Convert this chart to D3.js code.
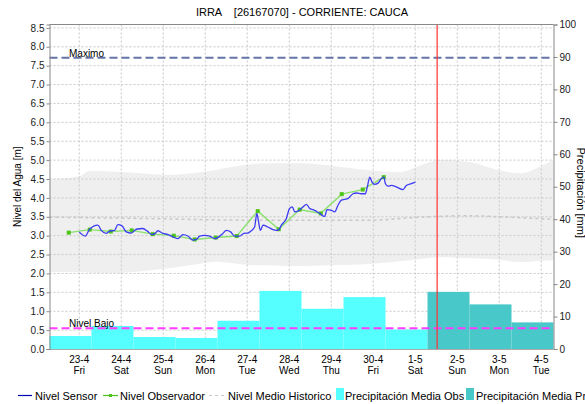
<!DOCTYPE html>
<html>
<head>
<meta charset="utf-8">
<script src="https://cdn.jsdelivr.net/npm/d3@7"></script>
<style>
  body { margin: 0; background: #fff; }
  text { font-family: "Liberation Sans", Arial, sans-serif; }
</style>
</head>
<body>
<svg id="chart" width="585" height="404"></svg>
<script>
// hours are counted from 23-4-2021 00:00
const sensorHours = [0, 3.4, 5.9, 10.6, 12.6, 15.4, 17.3, 20.2, 22.1, 24.4, 26.9, 29.7, 32.6, 36.4, 38.9, 41.5, 43.4, 44.9, 47.8, 50.7,
  53.5, 56.4, 59.2, 62.1, 64.9, 66.9, 68.8, 71.6, 74.5, 77.4, 79.2, 82.1, 84.0, 86.5, 88.8, 91.6, 94.1, 96.4, 97.4, 100.2,
  101.5, 102.3, 103.5, 105.0, 107.8, 110.7, 112.6, 114.1, 115.5, 118.3, 120.2, 121.8, 123.1, 125.0, 127.8, 129.8, 131.7, 134.5, 137.4, 140.2,
  141.6, 144.1, 146.0, 147.8, 149.8, 151.7, 153.5, 156.4, 158.4, 161.2, 163.5, 164.6, 166.0, 167.3, 168.8, 170.7, 172.6, 174.1, 174.9, 176.4,
  178.4, 181.2, 185.0, 186.9, 189.8, 192.1];
const sensorLevels = [3.10, 2.99, 3.17, 3.28, 3.14, 3.06, 3.12, 3.14, 3.29, 3.26, 3.10, 3.07, 3.17, 3.19, 3.12, 3.03, 3.06, 3.13, 3.06, 3.03,
  2.97, 2.92, 3.03, 2.99, 2.88, 2.90, 2.99, 3.01, 2.99, 2.92, 2.95, 3.06, 3.14, 3.10, 2.99, 2.99, 3.06, 3.07, 3.10, 3.23,
  3.59, 3.41, 3.14, 3.28, 3.23, 3.16, 3.14, 3.16, 3.28, 3.45, 3.72, 3.76, 3.63, 3.65, 3.76, 3.83, 3.72, 3.67, 3.59, 3.51,
  3.69, 3.67, 3.63, 3.80, 3.94, 3.96, 3.98, 4.11, 4.13, 4.11, 4.11, 4.29, 4.55, 4.42, 4.36, 4.39, 4.51, 4.55, 4.38, 4.31,
  4.33, 4.29, 4.22, 4.33, 4.38, 4.42];

const obsHours = [-6, 6, 18, 30, 42, 54, 66, 78, 90, 102, 114, 126, 138, 150, 162, 174];
const obsLevels = [3.08, 3.16, 3.11, 3.14, 3.04, 3.00, 2.90, 2.95, 2.99, 3.65, 3.17, 3.69, 3.59, 4.10, 4.22, 4.55];

const bandHours = [-17, 0, 6, 18, 35, 50, 69, 78, 86, 99, 103, 126, 143, 166, 183, 195, 206, 223, 240, 252, 263, 271];
const bandUpper = [4.49, 4.57, 4.71, 4.70, 4.65, 4.61, 4.68, 4.74, 4.81, 4.89, 4.91, 4.92, 4.86, 4.73, 4.68, 4.86, 5.00, 4.95, 4.73, 4.65, 4.82, 5.00];
const bandLower = [2.04, 2.04, 2.02, 2.01, 2.06, 2.13, 2.26, 2.31, 2.28, 2.22, 2.22, 2.20, 2.22, 2.25, 2.32, 2.38, 2.43, 2.40, 2.36, 2.30, 2.33, 2.35];

const medianHours = [-17, 30, 100, 166, 195, 220, 245, 271];
const medianLevels = [3.49, 3.46, 3.41, 3.41, 3.49, 3.53, 3.49, 3.43];

// daily precipitation, 07:00 to 07:00
const precipObs = [4.0, 7.1, 3.7, 3.4, 8.7, 17.9, 12.4, 16.0, 6.0];
const precipFc = [17.6, 13.75, 8.2];
const precipStartObs = [-17, 7, 31, 55, 79, 103, 127, 151, 175];
const precipStartFc = [199, 223, 247];

const dayLabels = ["23-4", "24-4", "25-4", "26-4", "27-4", "28-4", "29-4", "30-4", "1-5", "2-5", "3-5", "4-5"];
const weekLabels = ["Fri", "Sat", "Sun", "Mon", "Tue", "Wed", "Thu", "Fri", "Sat", "Sun", "Mon", "Tue"];

const nivelMaximo = 7.71;
const nivelBajo = 0.55;
const nowHour = 204.5;

const base = new Date(2021, 3, 23, 0, 0);
const toDate = h => new Date(base.getTime() + h * 3600000);

const svg = d3.select("#chart");
const pLeft = 49.5, pRight = 553.5, pTop = 24.5, pBottom = 349;

const x = d3.scaleTime().domain([toDate(-17), toDate(271)]).range([pLeft, pRight]);
const y = d3.scaleLinear().domain([0, 8.59]).range([pBottom, pTop]);
const y2 = d3.scaleLinear().domain([0, 100]).range([pBottom, pTop]);

// title
svg.append("text")
  .attr("x", 302).attr("y", 16)
  .attr("text-anchor", "middle")
  .style("font-size", "11px")
  .style("white-space", "pre")
  .text("IRRA    [26167070] - CORRIENTE: CAUCA");

// historic band
const band = d3.area()
  .x((d, i) => x(toDate(d)))
  .y0((d, i) => y(bandLower[i]))
  .y1((d, i) => y(bandUpper[i]))
  .curve(d3.curveMonotoneX);
svg.append("path").datum(bandHours)
  .attr("d", band)
  .attr("fill", "#efefef");

// grid
const yTicks = d3.range(0, 8.51, 0.5);
const dayDates = dayLabels.map((d, i) => toDate(i * 24));
svg.append("g").selectAll("line").data(yTicks.slice(1)).join("line")
  .attr("x1", pLeft).attr("x2", pRight)
  .attr("y1", d => y(d)).attr("y2", d => y(d))
  .attr("stroke", "#c8c8c8").attr("stroke-dasharray", "2,2");
svg.append("g").selectAll("line").data(dayDates).join("line")
  .attr("x1", d => x(d)).attr("x2", d => x(d))
  .attr("y1", pTop).attr("y2", pBottom)
  .attr("stroke", "#c8c8c8").attr("stroke-dasharray", "2,2");

// precipitation bars
svg.append("g").selectAll("rect").data(precipObs).join("rect")
  .attr("x", (d, i) => x(toDate(precipStartObs[i])))
  .attr("width", (d, i) => x(toDate(precipStartObs[i] + 24)) - x(toDate(precipStartObs[i])))
  .attr("y", d => y2(d))
  .attr("height", d => pBottom - y2(d))
  .attr("fill", "#55ffff");
svg.append("g").selectAll("rect").data(precipFc).join("rect")
  .attr("x", (d, i) => x(toDate(precipStartFc[i])))
  .attr("width", (d, i) => x(toDate(precipStartFc[i] + 24)) - x(toDate(precipStartFc[i])))
  .attr("y", d => y2(d))
  .attr("height", d => pBottom - y2(d))
  .attr("fill", "#48c8c8");

// historic median
svg.append("path").datum(medianHours)
  .attr("d", d3.line().x(d => x(toDate(d))).y((d, i) => y(medianLevels[i])).curve(d3.curveMonotoneX))
  .attr("fill", "none").attr("stroke", "#c8c8c8").attr("stroke-width", 1.5)
  .attr("stroke-dasharray", "3,3");

// reference levels
svg.append("line")
  .attr("x1", pLeft).attr("x2", pRight)
  .attr("y1", y(nivelMaximo)).attr("y2", y(nivelMaximo))
  .attr("stroke", "#6474a6").attr("stroke-width", 2).attr("stroke-dasharray", "8,4");
svg.append("text").attr("x", 69).attr("y", y(nivelMaximo) - 0.5)
  .style("font-size", "10px").text("Maximo");
svg.append("line")
  .attr("x1", pLeft).attr("x2", pRight)
  .attr("y1", y(nivelBajo)).attr("y2", y(nivelBajo))
  .attr("stroke", "#ff3cff").attr("stroke-width", 2).attr("stroke-dasharray", "8,4");
svg.append("text").attr("x", 69).attr("y", y(nivelBajo) - 1.5)
  .style("font-size", "10px").text("Nivel Bajo");

// current time
svg.append("line")
  .attr("x1", x(toDate(nowHour))).attr("x2", x(toDate(nowHour)))
  .attr("y1", pTop).attr("y2", pBottom)
  .attr("stroke", "#ff3030").attr("stroke-width", 1.2);

// observer
svg.append("path").datum(obsHours)
  .attr("d", d3.line().x(d => x(toDate(d))).y((d, i) => y(obsLevels[i])))
  .attr("fill", "none").attr("stroke", "#8de070").attr("stroke-width", 1.4);
svg.append("g").selectAll("rect").data(obsHours).join("rect")
  .attr("x", d => x(toDate(d)) - 2)
  .attr("y", (d, i) => y(obsLevels[i]) - 2)
  .attr("width", 4).attr("height", 4)
  .attr("fill", "#4cc41a");

// sensor
svg.append("path").datum(sensorHours)
  .attr("d", d3.line().x(d => x(toDate(d))).y((d, i) => y(sensorLevels[i])).curve(d3.curveMonotoneX))
  .attr("fill", "none").attr("stroke", "#3c3cf4").attr("stroke-width", 1.3);

// frame and axes
svg.append("line").attr("x1", pLeft).attr("x2", pRight).attr("y1", pTop).attr("y2", pTop)
  .attr("stroke", "#888");
svg.append("line").attr("x1", pLeft).attr("x2", pRight).attr("y1", pBottom + 0.5).attr("y2", pBottom + 0.5)
  .attr("stroke", "#555").attr("stroke-dasharray", "1,1");

const yAxis = svg.append("g").attr("transform", `translate(${pLeft},0)`)
  .call(d3.axisLeft(y).tickValues(yTicks).tickFormat(d3.format(".1f")).tickSize(3));
const y2Axis = svg.append("g").attr("transform", `translate(${pRight},0)`)
  .call(d3.axisRight(y2).tickValues(d3.range(0, 101, 10)).tickSize(4));
[yAxis, y2Axis].forEach(a => {
  a.select(".domain").attr("stroke", "#888");
  a.selectAll(".tick line").attr("stroke", "#888");
  a.selectAll("text").style("font-size", "10px").attr("fill", "#222")
    .style("font-family", "'Liberation Sans', Arial, sans-serif");
});
yAxis.selectAll("text").attr("x", -5);
y2Axis.selectAll("text").attr("x", 6);

const xLab = svg.append("g").selectAll("g").data(dayDates).join("g")
  .attr("transform", d => `translate(${x(d)},0)`);
xLab.append("text").attr("y", 363).attr("text-anchor", "middle")
  .style("font-size", "10px").text((d, i) => dayLabels[i]);
xLab.append("text").attr("y", 374).attr("text-anchor", "middle")
  .style("font-size", "10px").text((d, i) => weekLabels[i]);

// axis titles
svg.append("text")
  .attr("transform", `translate(21,${(pTop + pBottom) / 2}) rotate(-90)`)
  .attr("text-anchor", "middle").style("font-size", "10px")
  .text("Nivel del Agua [m]");
svg.append("text")
  .attr("transform", `translate(577,${(pTop + pBottom) / 2 + 6}) rotate(90)`)
  .attr("text-anchor", "middle").style("font-size", "11px")
  .text("Precipitación [mm]");

// legend
const lg = svg.append("g").style("font-size", "11px");
lg.append("line").attr("x1", 18).attr("x2", 32).attr("y1", 395.5).attr("y2", 395.5)
  .attr("stroke", "#0000b0").attr("stroke-width", 1.2);
lg.append("text").attr("x", 35).attr("y", 399.5).text("Nivel Sensor");
lg.append("line").attr("x1", 103).attr("x2", 118).attr("y1", 395.5).attr("y2", 395.5)
  .attr("stroke", "#4cc41a").attr("stroke-width", 1.2);
lg.append("rect").attr("x", 109).attr("y", 394).attr("width", 3).attr("height", 3).attr("fill", "#4cc41a");
lg.append("text").attr("x", 120).attr("y", 399.5).text("Nivel Observador");
lg.append("line").attr("x1", 209).attr("x2", 225).attr("y1", 395.5).attr("y2", 395.5)
  .attr("stroke", "#c8c8c8").attr("stroke-width", 1.2).attr("stroke-dasharray", "3,3");
lg.append("text").attr("x", 228).attr("y", 399.5).text("Nivel Medio Historico");
lg.append("rect").attr("x", 336).attr("y", 388).attr("width", 8).attr("height", 12).attr("fill", "#55ffff");
lg.append("text").attr("x", 345).attr("y", 399.5).text("Precipitación Media Obs");
lg.append("rect").attr("x", 466).attr("y", 388).attr("width", 8).attr("height", 12).attr("fill", "#48c8c8");
lg.append("text").attr("x", 476).attr("y", 399.5).text("Precipitación Media Pronosticada");
</script>
</body>
</html>
